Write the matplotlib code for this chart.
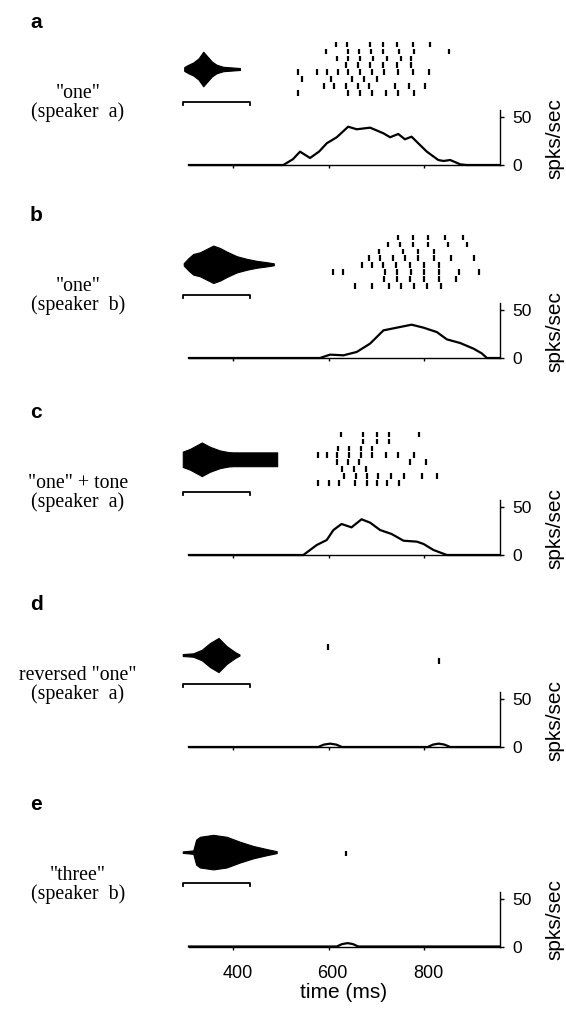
import matplotlib
matplotlib.use("Agg")
import matplotlib.pyplot as plt
from matplotlib.transforms import blended_transform_factory, ScaledTranslation

# ---------------- data ----------------
panel_letters = ["a", "b", "c", "d", "e"]
panel_titles = [
    ['"one"', "(speaker  a)"],
    ['"one"', "(speaker  b)"],
    ['"one" + tone', "(speaker  a)"],
    ['reversed "one"', "(speaker  a)"],
    ['"three"', "(speaker  b)"],
]

# stimulus envelopes (time ms, half amplitude, arbitrary units)
wave_a_t = [297, 306, 316, 327, 337, 344, 355, 365, 379, 414]
wave_a_env = [2, 4.5, 6.8, 11, 18, 14, 7.8, 4.4, 2.3, 1]
wave_b_t = [296, 306, 316, 330, 344, 358, 372, 386, 407, 428, 449, 470, 485]
wave_b_env = [1.2, 6.5, 10.8, 12.5, 16, 19.5, 17, 13.3, 8.5, 5.7, 3.6, 2.2, 1]
wave_c_t = [294, 309, 334, 351, 372, 390, 400, 492]
wave_c_env = [8, 10.8, 17.5, 13, 9.2, 7.5, 7.2, 7.2]
wave_d_t = [294, 316, 334, 351, 369, 386, 404, 413]
wave_d_env = [1, 1.8, 5.5, 12.5, 17.8, 9.3, 3, 0.6]
wave_e_t = [294, 316, 322, 330, 358, 386, 414, 442, 470, 491]
wave_e_env = [0.8, 1.8, 13, 16, 18, 16, 10.8, 6.4, 3.2, 1]

# spike rasters: one list of spike times (ms) per trial
raster_a = [
    [615, 638, 687, 713, 744, 776, 813],
    [594, 641, 664, 688, 715, 748, 779, 853],
    [618, 641, 666, 694, 722, 752, 772],
    [636, 662, 687, 715, 743, 772],
    [536, 575, 597, 620, 641, 666, 690, 717, 746, 778, 811],
    [545, 604, 650, 674, 702],
    [590, 611, 636, 661, 685, 739, 769, 802],
    [536, 641, 666, 692, 720, 746, 780],
]
raster_b = [
    [746, 776, 809, 844, 881],
    [724, 750, 778, 809, 851, 890],
    [706, 757, 787, 820],
    [685, 708, 734, 760, 788, 821, 856, 904],
    [669, 692, 715, 741, 771, 801, 832],
    [609, 630, 718, 744, 772, 801, 832, 874, 915],
    [717, 744, 771, 801, 832, 867],
    [655, 692, 727, 752, 780, 806, 835],
]
raster_c = [
    [626, 673, 701, 727, 790],
    [673, 701, 727],
    [619, 643, 668, 692],
    [578, 597, 618, 643, 667, 692, 720, 746, 780],
    [617, 640, 664, 771, 804],
    [629, 653, 678],
    [633, 657, 680, 704, 730, 758, 795, 828],
    [578, 601, 622, 655, 680, 702, 723, 748],
]
raster_d = [[], [], [], [599], [], [831], [], []]
raster_e = [[], [], [], [], [637], [], [], []]

# PSTH (time ms, spikes/sec)
psth_a_t = [307, 505, 525, 540, 561, 580, 596, 617, 641, 659, 687, 715, 729, 746,
            760, 774, 788, 806, 830, 841, 855, 876, 890, 960]
psth_a_r = [0, 0, 6, 13.9, 7.3, 14, 22.6, 28.9, 39.9, 37.2, 38.9, 33, 28.9, 32.3,
            26.8, 29.5, 22.6, 13.9, 5.2, 4.2, 5.2, 0.7, 0, 0]
psth_b_t = [307, 582, 603, 631, 659, 687, 715, 743, 774, 799, 827, 848, 876, 904, 921, 932, 960]
psth_b_r = [0, 0, 3.5, 2.8, 6.3, 15, 28.8, 31.6, 34.7, 31.6, 27, 19.4, 15.6, 9.7, 4.9, 0, 0]
psth_c_t = [307, 547, 575, 596, 610, 627, 648, 669, 687, 708, 732, 757, 785, 799, 820, 848, 960]
psth_c_r = [0, 0, 10.4, 15.6, 26, 32.3, 28.8, 37.2, 33.7, 26, 21.9, 14.9, 13.9, 11.5, 5.2, 0, 0]
psth_d_t = [307, 578, 590, 603, 616, 628, 808, 819, 831, 843, 855, 960]
psth_d_r = [0, 0, 2.5, 3.5, 2.5, 0, 0, 2.5, 3.5, 2.5, 0, 0]
psth_e_t = [307, 617, 628, 640, 651, 662, 960]
psth_e_r = [0, 0, 2.5, 3.5, 2.5, 0, 0]

x_ticks = [400, 600, 800]
y_ticks = [0, 50]

waves = [(wave_a_t, wave_a_env), (wave_b_t, wave_b_env), (wave_c_t, wave_c_env),
         (wave_d_t, wave_d_env), (wave_e_t, wave_e_env)]
rasters = [raster_a, raster_b, raster_c, raster_d, raster_e]
psths = [(psth_a_t, psth_a_r), (psth_b_t, psth_b_r), (psth_c_t, psth_c_r),
         (psth_d_t, psth_d_r), (psth_e_t, psth_e_r)]

# ---------------- layout ----------------
W, H = 566, 1010
fig = plt.figure(figsize=(W / 100, H / 100), dpi=100)
SANS = "Liberation Sans"
SERIF = "Liberation Serif"

XL = (290, 960)
px_per_ms = 0.4767
px0 = 233.3 + (XL[0] - 400) * px_per_ms
px1 = 233.3 + (XL[1] - 400) * px_per_ms
YL = (-10, 135)
px_per_unit = 0.96
baselines = [165, 358, 555, 747, 946.5]
wave_centers = [100, 97.6, 99.7, 95.8, 98.3]
row_top = 125.5
row_step = 7.2
tick_len = 5.8
bracket_ms = (294, 435)
bracket_y = 66

for i in range(5):
    base = baselines[i]
    bottom_px = base + (0 - YL[0]) * px_per_unit
    h_px = (YL[1] - YL[0]) * px_per_unit
    ax = fig.add_axes([px0 / W, 1 - bottom_px / H, (px1 - px0) / W, h_px / H])
    ax.set_xlim(*XL)
    ax.set_ylim(*YL)
    ax.patch.set_visible(False)

    # waveform
    wt, we = waves[i]
    c = wave_centers[i]
    ax.fill_between(wt, [c - e for e in we], [c + e for e in we],
                    color="black", lw=0.8, edgecolor="black")
    # bracket
    ax.plot([bracket_ms[0], bracket_ms[0], bracket_ms[1], bracket_ms[1]],
            [bracket_y - 3, bracket_y, bracket_y, bracket_y - 3],
            color="black", lw=1.3, clip_on=False)
    # raster
    for k, row in enumerate(rasters[i]):
        if row:
            y = row_top - k * row_step
            ax.vlines(row, y - tick_len / 2, y + tick_len / 2, color="black", lw=1.6)
    # psth
    pt, pr = psths[i]
    ax.plot(pt, pr, color="black", lw=1.6, solid_joinstyle="round")

    # axes styling
    for s in ["top", "left"]:
        ax.spines[s].set_visible(False)
    ax.spines["bottom"].set_position(("data", 0))
    ax.spines["bottom"].set_bounds(307, XL[1])
    ax.spines["right"].set_bounds(0, 57)
    for s in ["bottom", "right"]:
        ax.spines[s].set_linewidth(1.0)
    ax.yaxis.tick_right()
    ax.set_yticks(y_ticks)
    ax.set_yticklabels([str(v) for v in y_ticks], fontsize=12.5, family=SANS)
    ax.tick_params(axis="y", direction="out", length=3, width=1, pad=6)
    ax.set_xticks(x_ticks)
    ax.tick_params(axis="x", direction="out", length=2.5, width=1, pad=11)
    if i == 4:
        ax.set_xticklabels([str(v) for v in x_ticks], fontsize=13, family=SANS)
        shift = ScaledTranslation(4 / 100, 0, fig.dpi_scale_trans)
        for lab in ax.get_xticklabels():
            lab.set_transform(lab.get_transform() + shift)
    else:
        ax.set_xticklabels([])

    tr = blended_transform_factory(fig.transFigure, ax.transData)
    ax.text(555 / W, 28, "spks/sec", transform=tr, rotation=90, ha="center",
            va="center", fontsize=15, family=SANS)

    # left labels
    fig.text(30 / W, 1 - (base - 142.5) / H, panel_letters[i], ha="left", va="center",
             fontsize=15, fontweight="bold", family=SANS)
    fig.text(78 / W, 1 - (base - 67) / H, panel_titles[i][0], ha="center",
             va="baseline", fontsize=14.3, family=SERIF)
    fig.text(78 / W, 1 - (base - 48) / H, panel_titles[i][1], ha="center",
             va="baseline", fontsize=14.3, family=SERIF)

fig.text(344 / W, 1 - 993 / H, "time (ms)", ha="center", va="center",
         fontsize=15, family=SANS)

fig.savefig("out.png", dpi=100)
